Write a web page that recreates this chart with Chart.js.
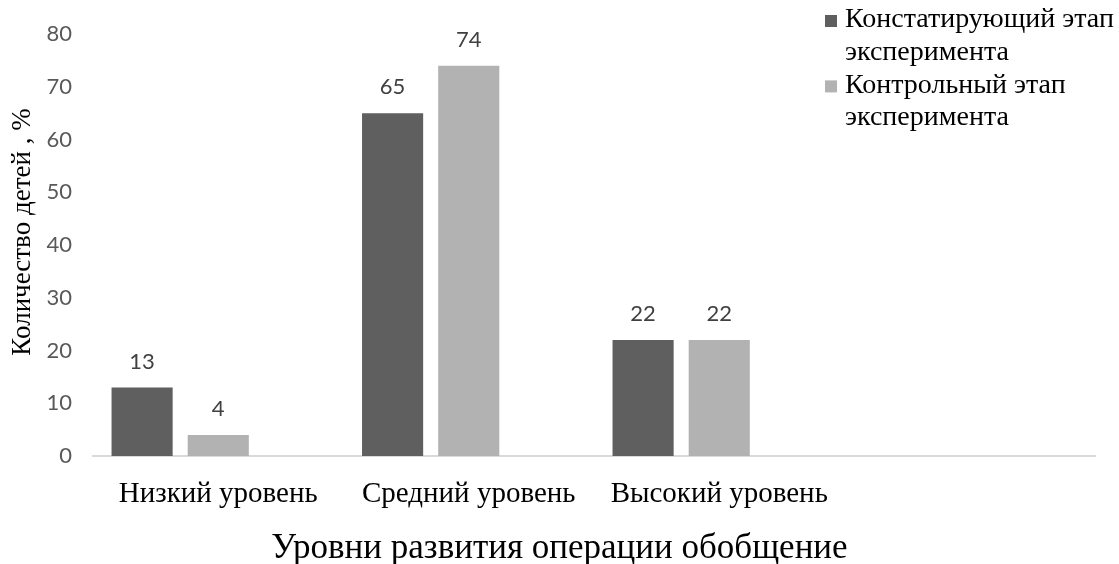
<!DOCTYPE html>
<html lang="ru">
<head>
<meta charset="utf-8">
<script src="https://cdn.jsdelivr.net/npm/chart.js@4.4.1/dist/chart.umd.min.js"></script>
<style>
  html, body { margin: 0; padding: 0; background: #ffffff; }
  #wrap { width: 1119px; height: 564px; position: relative; }
</style>
</head>
<body>
<div id="wrap"><canvas id="chart" width="1119" height="564"></canvas></div>
<script>
// Categories on the x axis (the last slot is left empty)
const categories = ['Низкий уровень', 'Средний уровень', 'Высокий уровень', ''];

// Share of children, %, per stage of the experiment
const constatingStage = [13, 65, 22, null];
const controlStage = [4, 74, 22, null];
// Third series of the source sheet has no values
const emptySeries = [null, null, null, null];

// Legend texts, already broken into lines
const constatingLegend = ['Констатирующий этап', 'эксперимента'];
const controlLegend = ['Контрольный этап', 'эксперимента'];

// Y axis range and step
const yMin = 0;
const yMax = 80;
const yStep = 10;

const xTitle = 'Уровни развития операции обобщение';
const yTitle = 'Количество детей , %';

const SERIF = '"Liberation Serif", "Times New Roman", serif';
const SANS = 'Lato, "Noto Sans", sans-serif';

// Value labels above each bar
const valueLabels = {
  id: 'valueLabels',
  afterDatasetsDraw(chart) {
    const ctx = chart.ctx;
    ctx.save();
    ctx.font = '22px ' + SANS;
    ctx.fillStyle = '#404040';
    ctx.textAlign = 'center';
    ctx.textBaseline = 'middle';
    chart.data.datasets.forEach((ds, i) => {
      const meta = chart.getDatasetMeta(i);
      meta.data.forEach((bar, j) => {
        const v = ds.data[j];
        if (v === null || v === undefined) return;
        ctx.fillText(String(v), bar.x, bar.y - 26);
      });
    });
    ctx.restore();
  }
};

// Legend in the upper right corner, with wrapped lines
const sideLegend = {
  id: 'sideLegend',
  afterDraw(chart) {
    const ctx = chart.ctx;
    ctx.save();
    ctx.font = '28px ' + SERIF;
    ctx.textBaseline = 'middle';
    ctx.textAlign = 'left';
    const lineH = 32.7;
    let y = 20;
    chart.data.datasets.forEach((ds) => {
      if (!ds.legendLines) return;
      ctx.fillStyle = ds.backgroundColor;
      ctx.fillRect(825, y - 5, 12, 12);
      ctx.fillStyle = '#000000';
      ds.legendLines.forEach((line, k) => {
        ctx.fillText(line, 845, y + k * lineH);
      });
      y += lineH * ds.legendLines.length;
    });
    ctx.restore();
  }
};

// Axis titles: rotated y title and x title centred under the chart
const axisTitles = {
  id: 'axisTitles',
  afterDraw(chart) {
    const ctx = chart.ctx;
    ctx.save();
    ctx.fillStyle = '#000000';
    ctx.textAlign = 'center';
    ctx.textBaseline = 'middle';
    ctx.font = '35px ' + SERIF;
    ctx.fillText(xTitle, chart.width / 2, 549);
    ctx.font = '27px ' + SERIF;
    ctx.translate(23, 232);
    ctx.rotate(-Math.PI / 2);
    ctx.fillText(yTitle, 0, 0);
    ctx.restore();
  }
};

new Chart(document.getElementById('chart'), {
  type: 'bar',
  data: {
    labels: categories,
    datasets: [
      {
        label: constatingLegend.join(' '),
        legendLines: constatingLegend,
        data: constatingStage,
        backgroundColor: '#5f5f5f'
      },
      {
        label: controlLegend.join(' '),
        legendLines: controlLegend,
        data: controlStage,
        backgroundColor: '#b2b2b2'
      },
      {
        label: '',
        data: emptySeries,
        backgroundColor: '#888888'
      }
    ]
  },
  options: {
    responsive: false,
    animation: false,
    devicePixelRatio: 1,
    layout: { padding: { top: 29, right: 24, left: 0, bottom: 0 } },
    datasets: {
      bar: { categoryPercentage: 0.912, barPercentage: 0.8026 }
    },
    plugins: {
      legend: { display: false },
      tooltip: { enabled: false }
    },
    scales: {
      x: {
        grid: { display: false, drawTicks: false },
        border: { display: true, color: '#d9d9d9', width: 2 },
        ticks: {
          color: '#000000',
          font: { family: SERIF, size: 29 },
          padding: 21,
          maxRotation: 0,
          autoSkip: false
        },
        afterFit(scale) { scale.height = 108; }
      },
      y: {
        min: yMin,
        max: yMax,
        grid: { display: false, drawTicks: false },
        border: { display: false },
        ticks: {
          stepSize: yStep,
          color: '#595959',
          font: { family: SANS, size: 22 },
          padding: 21
        },
        afterFit(scale) { scale.width = 93; }
      }
    }
  },
  plugins: [valueLabels, sideLegend, axisTitles]
});
</script>
</body>
</html>
